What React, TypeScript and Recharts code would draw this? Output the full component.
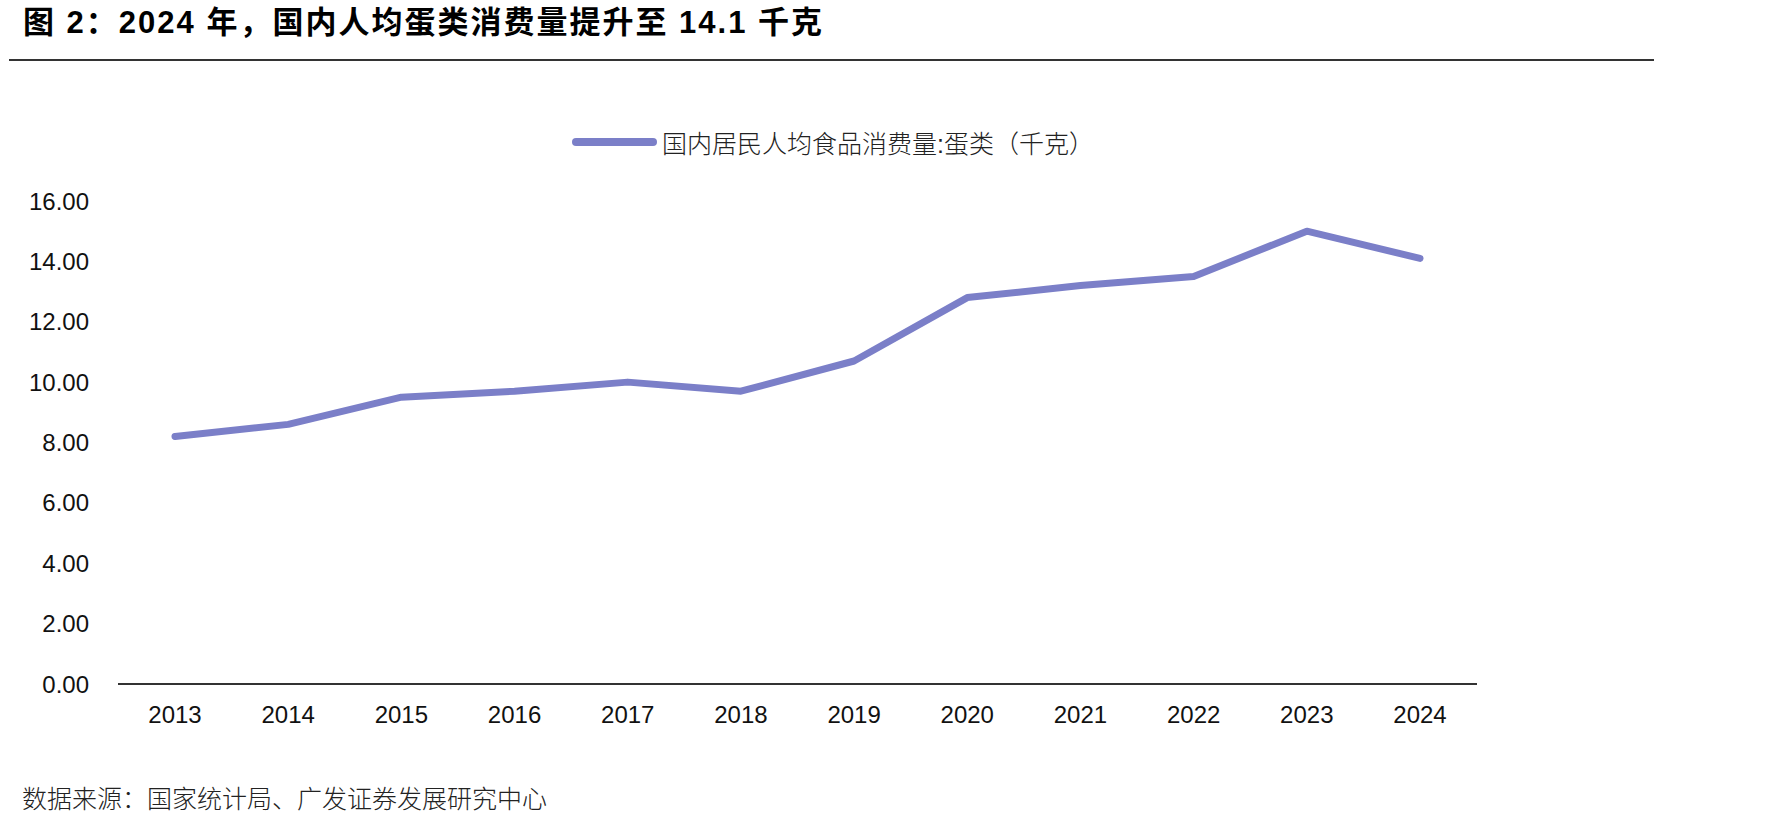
import { LineChart, Line, XAxis, YAxis, Legend } from 'recharts'

const years = ['2013', '2014', '2015', '2016', '2017', '2018', '2019', '2020', '2021', '2022', '2023', '2024']
const eggKg = [8.2, 8.6, 9.5, 9.7, 10.0, 9.7, 10.7, 12.8, 13.2, 13.5, 15.0, 14.1]
const yTicks = [0, 2, 4, 6, 8, 10, 12, 14, 16]

const seriesName = '国内居民人均食品消费量:蛋类（千克）'
const lineColor = '#7b7fc8'
const fontStack = '"Liberation Sans", Arial, "Noto Sans CJK SC", sans-serif'

const data = years.map((year, i) => ({ year, egg: eggKg[i] }))

function LegendRow() {
  return (
    <div style={{ display: 'flex', alignItems: 'center', marginLeft: 570 }}>
      <svg width={90} height={12}>
        <line x1={6} y1={6} x2={83} y2={6} stroke={lineColor} strokeWidth={8} strokeLinecap="round" />
      </svg>
      <span style={{ fontSize: 25, color: '#222', marginLeft: 2, fontWeight: 300 }}>{seriesName}</span>
    </div>
  )
}

export default function App() {
  return (
    <div
      style={{
        position: 'absolute',
        left: 0,
        top: 0,
        width: 1790,
        height: 830,
        background: '#fff',
        fontFamily: fontStack,
        overflow: 'hidden',
      }}
    >
      <div
        style={{
          position: 'absolute',
          left: 23,
          top: 4,
          fontSize: 31,
          lineHeight: '38px',
          letterSpacing: 2,
          fontWeight: 'bold',
          color: '#000',
          whiteSpace: 'pre',
        }}
      >
        图 2：2024 年，国内人均蛋类消费量提升至 14.1 千克
      </div>
      <div style={{ position: 'absolute', left: 9, top: 59, width: 1645, height: 2, background: '#333' }} />

      <LineChart width={1790} height={830} data={data} margin={{ top: 201, right: 313, bottom: 86, left: 0 }}>
        <Legend
          layout="horizontal"
          align="center"
          verticalAlign="middle"
          wrapperStyle={{ top: 124, left: 0, width: 1790 }}
          content={() => <LegendRow />}
        />
        <XAxis
          dataKey="year"
          height={60}
          padding={{ left: 57, right: 57 }}
          axisLine={{ stroke: '#333', strokeWidth: 2 }}
          tickLine={false}
          tickSize={0}
          tickMargin={22}
          tick={{ fill: '#111', fontSize: 24, fontFamily: fontStack }}
          interval={0}
        />
        <YAxis
          width={118}
          domain={[0, 16]}
          ticks={yTicks}
          tickFormatter={(v: number) => v.toFixed(2)}
          axisLine={false}
          tickLine={false}
          tickSize={0}
          tickMargin={29}
          tick={{ fill: '#111', fontSize: 24, fontFamily: fontStack }}
          interval={0}
        />
        <Line
          type="linear"
          dataKey="egg"
          name={seriesName}
          stroke={lineColor}
          strokeWidth={7}
          strokeLinecap="round"
          strokeLinejoin="round"
          dot={false}
          activeDot={false}
          isAnimationActive={false}
        />
      </LineChart>

      <div style={{ position: 'absolute', left: 22, top: 784, fontSize: 25, lineHeight: '30px', color: '#222', fontWeight: 300 }}>
        数据来源：国家统计局、广发证券发展研究中心
      </div>
    </div>
  )
}
